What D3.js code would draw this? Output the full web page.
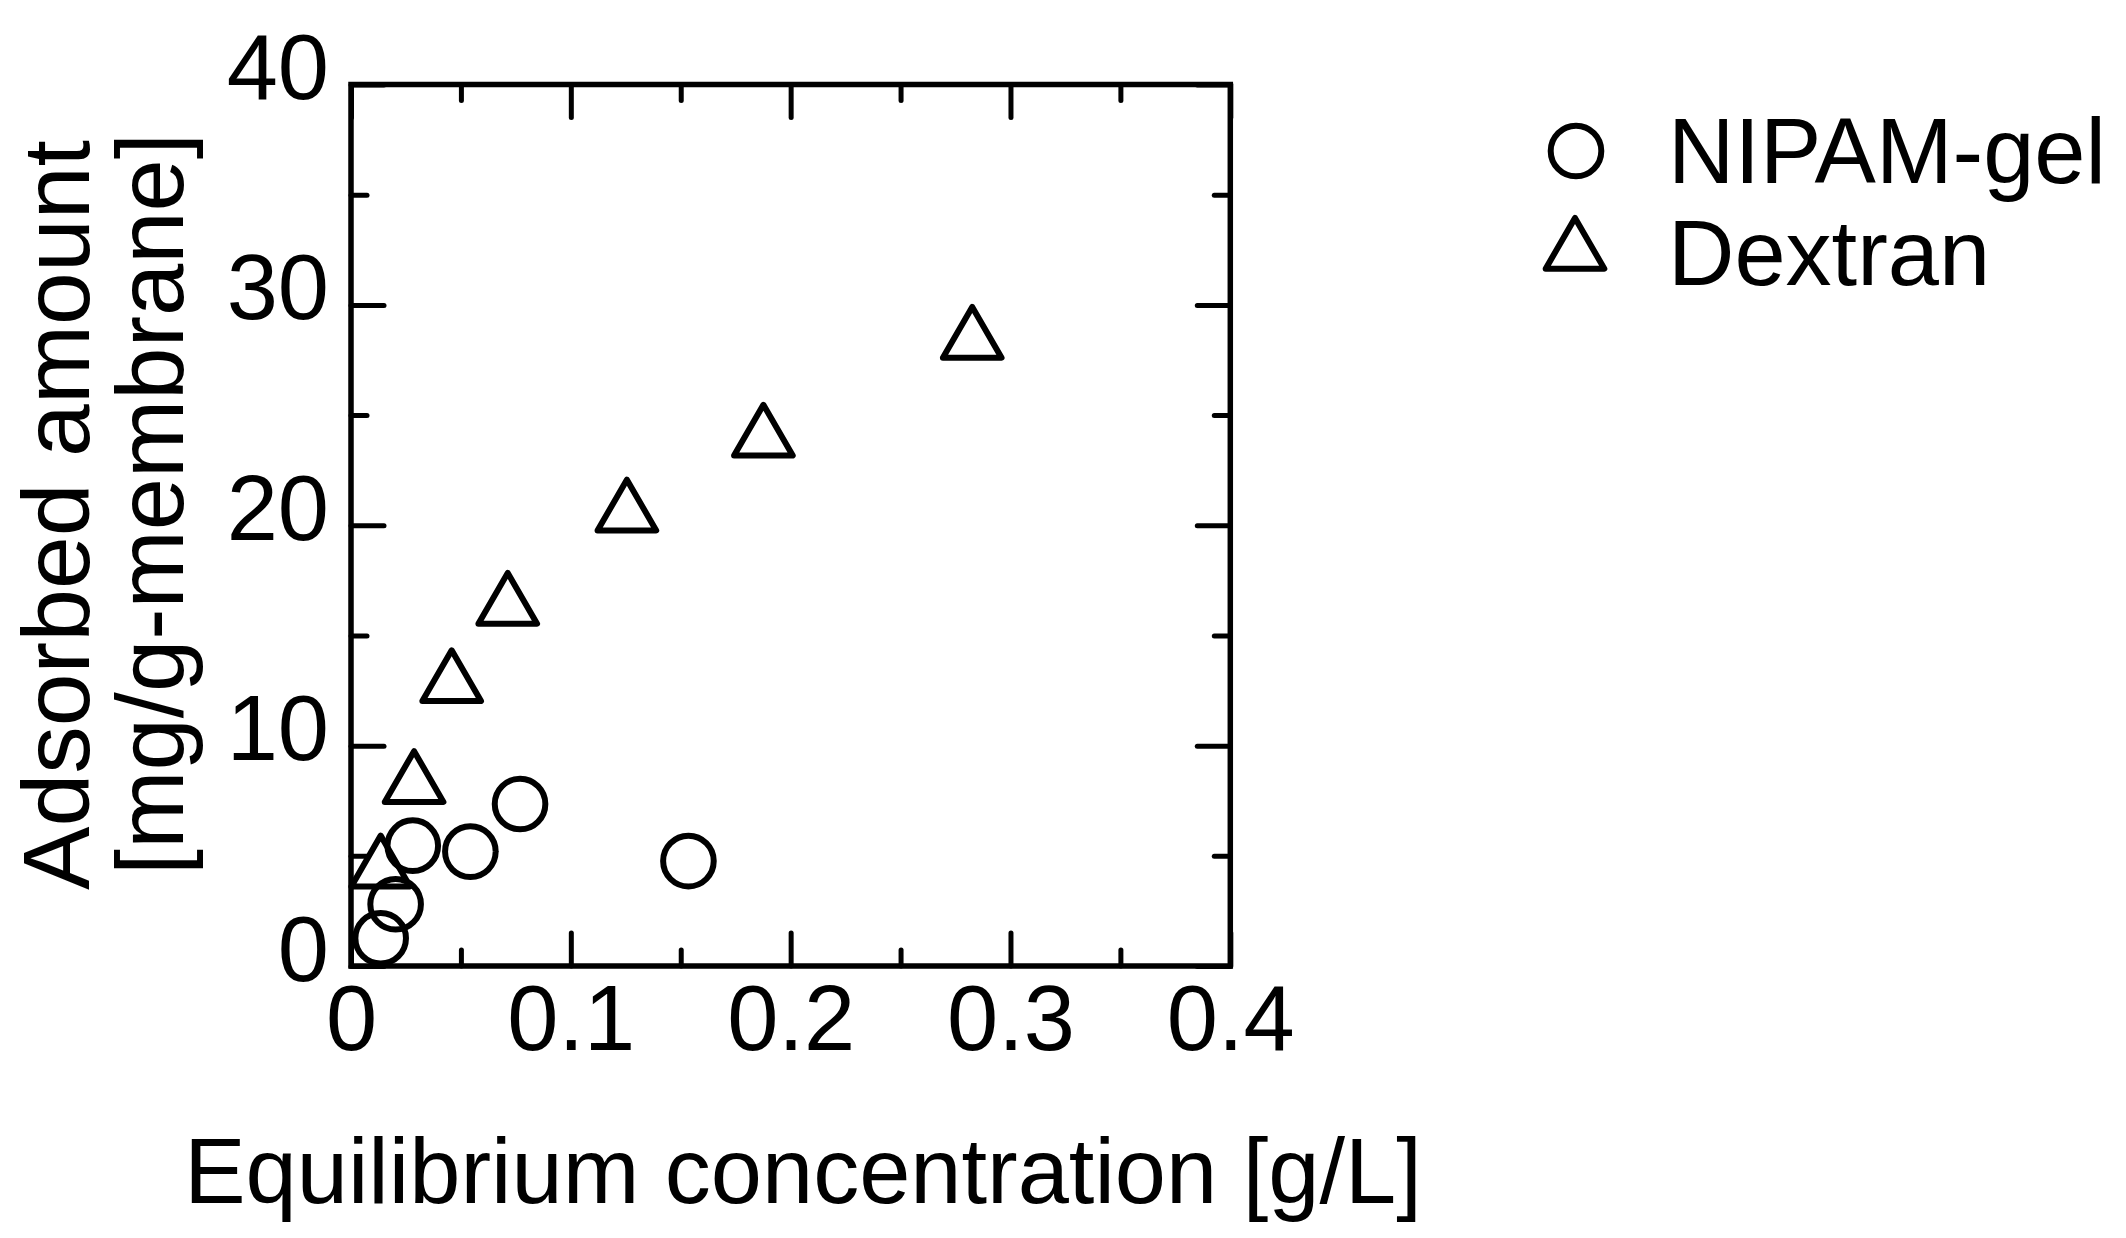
<!DOCTYPE html>
<html>
<head>
<meta charset="utf-8">
<script src="https://cdn.jsdelivr.net/npm/d3@7"></script>
<style>
  body { margin: 0; background: #fff; }
  text { font-family: "Liberation Sans", Arial, sans-serif; fill: #000; }
</style>
</head>
<body>
<div id="chart"></div>
<script>
// data
let nipamX = [0.0135, 0.0203, 0.0281, 0.0543, 0.0769, 0.1535];
let nipamY = [1.26, 2.80, 5.46, 5.19, 7.35, 4.76];
let dextranX = [0.0135, 0.0287, 0.0458, 0.0713, 0.1255, 0.1876, 0.2826];
let dextranY = [4.38, 8.21, 12.79, 16.30, 20.53, 23.93, 28.37];
let xTicks = [0, 0.1, 0.2, 0.3, 0.4];
let xMinor = [0.05, 0.15, 0.25, 0.35];
let yTicks = [0, 10, 20, 30, 40];
let yMinor = [5, 15, 25, 35];
let seriesNames = ["NIPAM-gel", "Dextran"];

let W = 2126, H = 1238;
let margin = {top: 84.5, left: 351, right: 2126 - 1230.3, bottom: 1238 - 966};
let width = W - margin.left - margin.right;
let height = H - margin.top - margin.bottom;

let svg = d3.select("#chart").append("svg")
    .attr("width", W).attr("height", H);
let g = svg.append("g").attr("transform", "translate(" + margin.left + "," + margin.top + ")");

let xScale = d3.scaleLinear().domain([0, 0.4]).range([0, width]);
let yScale = d3.scaleLinear().domain([0, 40]).range([height, 0]);

let fmtX = d => d === 0 ? "0" : d3.format(".1f")(d);

// ticks point inward, on all four sides
function tickAxis(axis, pos, vals, len, fmt) {
    let a = axis.tickValues(vals).tickSize(-len).tickPadding(0).tickFormat(fmt || "");
    let sel = g.append("g").attr("transform", pos).call(a);
    sel.select(".domain").remove();
    sel.selectAll("line").attr("stroke", "#000").attr("stroke-width", 5).attr("stroke-linecap", "round");
    return sel;
}

let xb = tickAxis(d3.axisBottom(xScale), "translate(0," + height + ")", xTicks, 33, fmtX);
tickAxis(d3.axisBottom(xScale), "translate(0," + height + ")", xMinor, 16);
tickAxis(d3.axisTop(xScale), "translate(0,0)", xTicks, 33);
tickAxis(d3.axisTop(xScale), "translate(0,0)", xMinor, 16);
let yl = tickAxis(d3.axisLeft(yScale), "translate(0,0)", yTicks, 33, d3.format("d"));
tickAxis(d3.axisLeft(yScale), "translate(0,0)", yMinor, 16);
tickAxis(d3.axisRight(yScale), "translate(" + width + ",0)", yTicks, 33);
tickAxis(d3.axisRight(yScale), "translate(" + width + ",0)", yMinor, 16);

xb.selectAll("text").attr("font-size", 92).attr("dy", null).attr("y", 84)
    .attr("font-family", "Liberation Sans, Arial, sans-serif");
yl.selectAll("text").attr("font-size", 92).attr("dy", null).attr("x", -22).attr("y", 14)
    .attr("font-family", "Liberation Sans, Arial, sans-serif");

// frame
g.append("rect").attr("x", 0).attr("y", 0).attr("width", width).attr("height", height)
    .attr("fill", "none").attr("stroke", "#000").attr("stroke-width", 5.5);

// markers
let circleSym = d3.symbol().type(d3.symbolCircle).size(2011);
let triSym = d3.symbol().type(d3.symbolTriangle).size(1490);

g.selectAll(".nipam").data(nipamX.map((x, i) => ({x: x, y: nipamY[i]})))
    .enter().append("path").attr("class", "nipam")
    .attr("d", circleSym)
    .attr("transform", d => "translate(" + xScale(d.x) + "," + yScale(d.y) + ")")
    .attr("fill", "none").attr("stroke", "#000").attr("stroke-width", 6);

g.selectAll(".dextran").data(dextranX.map((x, i) => ({x: x, y: dextranY[i]})))
    .enter().append("path").attr("class", "dextran")
    .attr("d", triSym)
    .attr("transform", d => "translate(" + xScale(d.x) + "," + yScale(d.y) + ")")
    .attr("fill", "none").attr("stroke", "#000").attr("stroke-width", 6).attr("stroke-linejoin", "round");

// axis titles
svg.append("text").attr("x", 803).attr("y", 1203).attr("text-anchor", "middle")
    .attr("font-size", 92).text("Equilibrium concentration [g/L]");
svg.append("text").attr("transform", "translate(89,515) rotate(-90)").attr("text-anchor", "middle")
    .attr("font-size", 95).text("Adsorbed amount");
svg.append("text").attr("transform", "translate(183,504) rotate(-90)").attr("text-anchor", "middle")
    .attr("font-size", 94).text("[mg/g-membrane]");

// legend
let legend = svg.append("g");
legend.append("path").attr("d", circleSym).attr("transform", "translate(1576,151)")
    .attr("fill", "none").attr("stroke", "#000").attr("stroke-width", 6);
legend.append("path").attr("d", triSym).attr("transform", "translate(1575,251.8)")
    .attr("fill", "none").attr("stroke", "#000").attr("stroke-width", 6).attr("stroke-linejoin", "round");
legend.selectAll(".lbl").data(seriesNames).enter().append("text").attr("class", "lbl")
    .attr("x", 1668).attr("y", (d, i) => 183 + i * 102)
    .attr("font-size", 92).text(d => d);
</script>
</body>
</html>
